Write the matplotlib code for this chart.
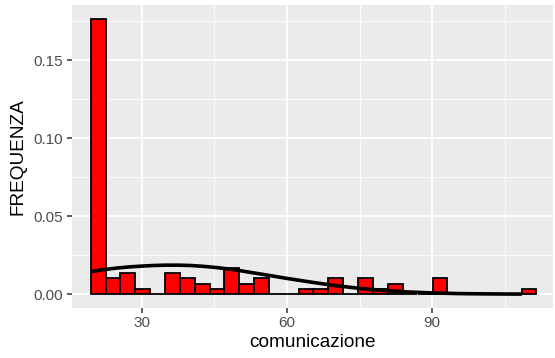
import numpy as np
import matplotlib.pyplot as plt

# histogram bins (centre of each bin) and density
bin_centers = [21.0, 24.1, 27.1, 30.2, 33.3, 36.3, 39.4, 42.5, 45.6, 48.6,
               51.7, 54.8, 57.8, 60.9, 64.0, 67.0, 70.1, 73.2, 76.2, 79.3,
               82.4, 85.4, 88.5, 91.6, 94.7, 97.7, 100.8, 103.9, 106.9, 110.0]
density = [0.1767, 0.0102, 0.0136, 0.0034, 0.0, 0.0136, 0.0102, 0.0068, 0.0034, 0.0170,
           0.0068, 0.0102, 0.0, 0.0, 0.0034, 0.0034, 0.0102, 0.0, 0.0102, 0.0034,
           0.0068, 0.0, 0.0, 0.0102, 0.0, 0.0, 0.0, 0.0, 0.0, 0.0034]
bin_width = 3.07

# normal curve points
curve_x = [19.5, 22.0, 25.0, 27.5, 30.0, 32.5, 35.0, 37.5, 40.0, 42.5, 45.0, 47.5, 50.0,
           55.0, 60.0, 65.0, 70.0, 75.0, 80.0, 85.0, 90.0, 95.0, 100.0, 105.0, 108.5]
curve_y = [0.0145, 0.0157, 0.0168, 0.0175, 0.0180, 0.0184, 0.0186, 0.0186, 0.0184,
           0.0179, 0.0172, 0.0163, 0.0152, 0.0127, 0.0101, 0.0077, 0.0055, 0.0037,
           0.0024, 0.0014, 0.0008, 0.0004, 0.0002, 0.0001, 0.00005]

x_ticks = [30, 60, 90]
y_ticks = [0.00, 0.05, 0.10, 0.15]
y_tick_labels = ["0.00", "0.05", "0.10", "0.15"]

plt.rcParams['font.family'] = ['Liberation Sans', 'DejaVu Sans']

fig = plt.figure(figsize=(5.55, 3.58), dpi=100)
ax = fig.add_axes([0.129, 0.14, 0.867, 0.846])

# ggplot-like panel
ax.set_facecolor('#EBEBEB')
for s in ax.spines.values():
    s.set_visible(False)
ax.set_xlim(15.5, 114.9)
ax.set_ylim(-0.0088, 0.1855)
ax.set_xticks(x_ticks)
ax.set_xticks([45, 75, 105], minor=True)
ax.set_yticks(y_ticks)
ax.set_yticklabels(y_tick_labels)
ax.set_yticks([0.025, 0.075, 0.125, 0.175], minor=True)
ax.grid(which='major', color='white', linewidth=1.3)
ax.grid(which='minor', color='white', linewidth=0.6)
ax.set_axisbelow(True)
ax.tick_params(which='major', length=3.5, width=1.1, color='#333333',
               labelsize=11, labelcolor='#4D4D4D', pad=2.5)
ax.tick_params(which='minor', length=0)

# histogram and curve
ax.bar(bin_centers, density, width=bin_width, color='#FF0000',
       edgecolor='black', linewidth=1.3, zorder=2)
ax.plot(curve_x, curve_y, color='black', linewidth=2.6, zorder=3,
        solid_capstyle='butt')

ax.set_xlabel("comunicazione", fontsize=13.7, labelpad=3)
ax.set_ylabel("FREQUENZA", fontsize=13.7, labelpad=5)

plt.savefig('out.png')
